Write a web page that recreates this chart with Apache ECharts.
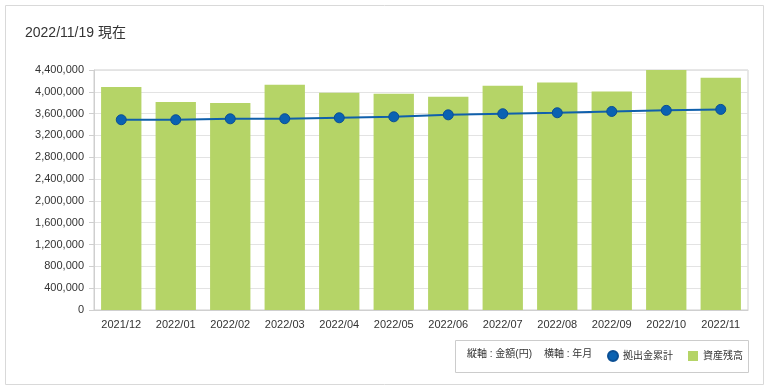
<!DOCTYPE html>
<html><head><meta charset="utf-8">
<script src="https://cdn.jsdelivr.net/npm/echarts@6/dist/echarts.min.js"></script>
<style>html,body{margin:0;padding:0;background:#fff}#c{width:769px;height:390px}</style>
</head><body><div id="c"></div>
<script>
var categories = ['2021/12','2022/01','2022/02','2022/03','2022/04','2022/05','2022/06','2022/07','2022/08','2022/09','2022/10','2022/11'];
var assetBalance = [4090000,3815000,3795000,4130000,3985000,3965000,3910000,4110000,4170000,4005000,4405000,4260000];
var contribution = [3488000,3488000,3505000,3507000,3524000,3542000,3578000,3598000,3616000,3640000,3660000,3678000];
var yTicks = {min:0, max:4400000, interval:400000};
var FONT = '"Liberation Sans", Arial, "Noto Sans CJK JP", sans-serif';
var chart = echarts.init(document.getElementById('c'));
chart.setOption({
  animation:false,
  textStyle:{fontFamily:FONT},
  title:{text:'2022/11/19 現在', left:20, top:21, textStyle:{fontSize:14, fontWeight:'normal', color:'#333', fontFamily:FONT}},
  graphic:[
    {type:'rect', shape:{x:5.5,y:5.5,width:758,height:379}, style:{fill:'none', stroke:'#d9d9d9', lineWidth:1}, silent:true, z:-10},
    {type:'rect', shape:{x:455.5,y:340.5,width:293,height:32}, style:{fill:'none', stroke:'#cccccc', lineWidth:1}, silent:true},
    {type:'text', left:467, top:349, style:{text:'縦軸 : 金額(円)', font:'10px '+FONT, fill:'#333'}},
    {type:'text', left:544, top:349, style:{text:'横軸 : 年月', font:'10px '+FONT, fill:'#333'}}
  ],
  legend:{
    left:602, top:345, itemGap:15, itemWidth:10, itemHeight:10,
    textStyle:{fontSize:10, color:'#333', fontFamily:FONT},
    data:[{name:'拠出金累計', icon:'circle'}, {name:'資産残高', icon:'rect'}]
  },
  grid:{left:94, right:21, top:70, bottom:80, containLabel:false, show:true, borderColor:'#cfcfcf', borderWidth:1},
  xAxis:{
    type:'category', data:categories,
    axisLine:{lineStyle:{color:'#cfcfcf'}},
    axisTick:{alignWithLabel:true, length:5, lineStyle:{color:'#bbb', type:'dotted'}},
    axisLabel:{color:'#333', fontSize:11, margin:9, fontFamily:FONT}
  },
  yAxis:{
    type:'value', min:yTicks.min, max:yTicks.max, interval:yTicks.interval,
    axisLine:{show:true, lineStyle:{color:'#cfcfcf'}},
    axisTick:{show:true, length:5, lineStyle:{color:'#cfcfcf'}},
    splitLine:{lineStyle:{color:'#e3e3e3'}},
    axisLabel:{color:'#333', fontSize:11, margin:10, fontFamily:FONT, formatter:function(v){return v.toLocaleString('en-US');}}
  },
  series:[
    {name:'資産残高', type:'bar', data:assetBalance, barCategoryGap:'26%', itemStyle:{color:'#b5d467'}, z:1},
    {name:'拠出金累計', type:'line', data:contribution, symbol:'circle', symbolSize:10,
     lineStyle:{color:'#1060ac', width:2}, itemStyle:{color:'#0a62b2', borderColor:'#0a4f94', borderWidth:1}, z:3}
  ]
});
</script></body></html>
